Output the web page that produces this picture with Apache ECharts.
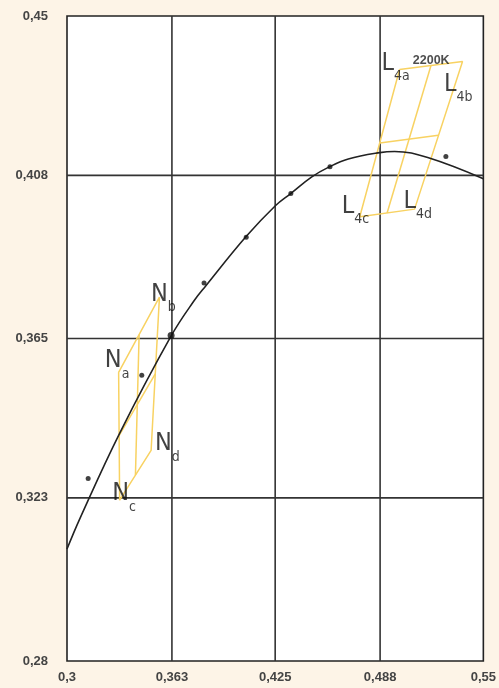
<!DOCTYPE html>
<html>
<head>
<meta charset="utf-8">
<script src="https://cdn.jsdelivr.net/npm/echarts@6/dist/echarts.min.js"></script>
<style>
  html, body { margin: 0; padding: 0; background: #fdf4e7; }
  #chart { width: 499px; height: 688px; }
</style>
</head>
<body>
<div id="chart"></div>
<script>
// axis ticks (uneven, as printed)
const xTicks = [0.3, 0.363, 0.425, 0.488, 0.55];
const yTicks = [0.28, 0.323, 0.365, 0.408, 0.45];

// black locus curve
const locus = [
  [0.300, 0.3095], [0.3078, 0.3176], [0.3316, 0.3400], [0.3627, 0.3658],
  [0.3764, 0.3750], [0.3834, 0.3789], [0.4074, 0.3918], [0.4251, 0.4000],
  [0.4343, 0.4032], [0.4470, 0.4076], [0.4569, 0.4101], [0.4689, 0.4123],
  [0.4878, 0.4140], [0.4967, 0.4143], [0.5166, 0.4127], [0.5500, 0.4071]
];

// measured points
const dots = [
  [0.3127, 0.3281], [0.3449, 0.3553], [0.3823, 0.3796], [0.4076, 0.3917],
  [0.4344, 0.4032], [0.4579, 0.4103], [0.5275, 0.4130]
];
const bigDot = [[0.3625, 0.3658]];

// N quadrangle: Na, Nb, Nd, Nc, Na
const nOutline = [[0.3310, 0.3561], [0.3555, 0.3759], [0.3505, 0.3355], [0.3316, 0.3224], [0.3310, 0.3561]];
const nMidA = [[0.3433, 0.3660], [0.3411, 0.3290]];
const nMidB = [[0.3310, 0.3392], [0.3530, 0.3557]];

// L4 quadrangle: L4a, L4b, L4d, L4c, L4a
const lOutline = [[0.4997, 0.4359], [0.5375, 0.4380], [0.5087, 0.3991], [0.4758, 0.3971], [0.4997, 0.4359]];
const lMidA = [[0.5186, 0.4370], [0.4922, 0.3981]];
const lMidB = [[0.4878, 0.4165], [0.5230, 0.4186]];

// labels: letter, subscript, anchor (top-left)
const cornerLabels = [
  ['N', 'a', 0.3227, 0.3624],
  ['N', 'b', 0.3504, 0.3800],
  ['N', 'c', 0.3272, 0.3274],
  ['N', 'd', 0.3528, 0.3405],
  ['L', '4a', 0.4888, 0.4409],
  ['L', '4b', 0.5264, 0.4353],
  ['L', '4c', 0.4650, 0.4032],
  ['L', '4d', 0.5020, 0.4045]
];
const tempLabel = ['2200K', 0.5187, 0.4382];

const fmt = (v) => String(v).replace('.', ',');
const yellow = '#f8d262';
const labelFont = 'Liberation Sans Narrow, DejaVu Sans Condensed, Roboto, sans-serif';
const tickFont = {
  color: '#444', fontSize: 13, fontWeight: 'bold',
  fontFamily: 'Liberation Sans, Arial, sans-serif'
};

function yellowLine(data) {
  return {
    type: 'line', data, symbol: 'none', silent: true, z: 3,
    lineStyle: { color: yellow, width: 1.5 }
  };
}

function gridLine(data) {
  return {
    type: 'line', data, symbol: 'none', silent: true, z: 2,
    lineStyle: { color: '#333', width: 1.6 }
  };
}

const inner = (t) => t.slice(1, -1);
const gridSeries = inner(xTicks).map((v) => gridLine([[v, yTicks[0]], [v, yTicks[yTicks.length - 1]]]))
  .concat(inner(yTicks).map((v) => gridLine([[xTicks[0], v], [xTicks[xTicks.length - 1], v]])));

const chart = echarts.init(document.getElementById('chart'));
chart.setOption({
  animation: false,
  backgroundColor: '#fdf4e7',
  grid: {
    left: 67, right: 13, top: 16, bottom: 27,
    show: true, backgroundColor: '#fff', borderColor: '#222', borderWidth: 1.6
  },
  xAxis: {
    type: 'value', min: 0.3, max: 0.55,
    axisLine: { show: false }, axisTick: { show: false }, splitLine: { show: false },
    axisLabel: Object.assign({ customValues: xTicks, formatter: fmt, margin: 10 }, tickFont)
  },
  yAxis: {
    type: 'value', min: 0.28, max: 0.45,
    axisLine: { show: false }, axisTick: { show: false }, splitLine: { show: false },
    axisLabel: Object.assign({ customValues: yTicks, formatter: fmt, margin: 19 }, tickFont)
  },
  series: gridSeries.concat([
    yellowLine(nOutline), yellowLine(nMidA), yellowLine(nMidB),
    yellowLine(lOutline), yellowLine(lMidA), yellowLine(lMidB),
    {
      type: 'line', data: locus, symbol: 'none', smooth: 0.4, z: 4,
      lineStyle: { color: '#222', width: 1.6 }
    },
    {
      type: 'scatter', data: dots, symbolSize: 5, z: 5,
      itemStyle: { color: '#111' }
    },
    {
      type: 'scatter', data: bigDot, symbolSize: 7, z: 5,
      itemStyle: { color: '#111' }
    },
    {
      type: 'scatter', symbolSize: 0, z: 6, silent: true,
      data: cornerLabels.map((d) => ({ value: [d[2], d[3]], main: d[0], sub: d[1] })),
      label: {
        show: true, position: [0, 0], align: 'left', verticalAlign: 'top',
        formatter: (p) => '{m|' + p.data.main + '}{s|' + p.data.sub + '}',
        rich: {
          m: { fontSize: 25, lineHeight: 33, color: '#111', verticalAlign: 'top', fontFamily: labelFont },
          s: { fontSize: 14, lineHeight: 14, color: '#111', verticalAlign: 'bottom', fontFamily: labelFont }
        }
      }
    },
    {
      type: 'scatter', symbolSize: 0, z: 6, silent: true,
      data: [[tempLabel[1], tempLabel[2]]],
      label: {
        show: true, position: 'inside', formatter: tempLabel[0],
        fontSize: 12.5, fontWeight: 'bold', color: '#222',
        fontFamily: 'Liberation Sans, Arial, sans-serif'
      }
    }
  ])
});
</script>
</body>
</html>
